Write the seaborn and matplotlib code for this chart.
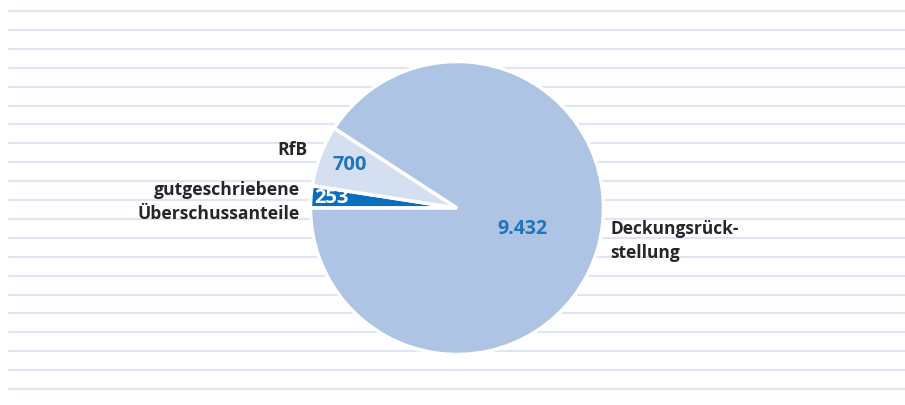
import matplotlib
matplotlib.use("Agg")
import matplotlib.pyplot as plt
import seaborn as sns

# Data
categories = ["gutgeschriebene\nÜberschussanteile", "RfB", "Deckungsrück-\nstellung"]
values = [253, 700, 9432]
value_labels = ["253", "700", "9.432"]
colors = ["#0a6ebd", "#d4e0f2", "#adc4e4"]

sns.set_theme(style="white")
plt.rcParams['font.family'] = ['Open Sans', 'DejaVu Sans']

W, H = 905, 405
fig = plt.figure(figsize=(W / 100, H / 100), dpi=100)

# background ruled lines
bg = fig.add_axes([0, 0, 1, 1])
bg.set_xlim(0, W)
bg.set_ylim(H, 0)
bg.axis("off")
for k in range(21):
    y = 11 + 18.9 * k
    bg.plot([8, W], [y, y], color="#dfe5f3", lw=1.5, solid_capstyle="butt")

# pie
cx, cy, r = 457, 208, 146.5
ax = fig.add_axes([(cx - r) / W, (H - cy - r) / H, 2 * r / W, 2 * r / H])
wedges, _ = ax.pie(values, colors=colors, startangle=180, counterclock=False,
                   radius=1, wedgeprops=dict(edgecolor="white", linewidth=2.5))
ax.set_xlim(-1, 1)
ax.set_ylim(-1, 1)
ax.set_aspect("equal")
ax.axis("off")

def p(x, y):
    return (x - cx) / r, (cy - y) / r

dark = "#262626"
blue = "#1f74bb"

# category labels
ax.text(*p(300, 202), categories[0], ha="right", va="center", fontsize=12.6,
        fontweight="bold", color=dark, linespacing=1.45, clip_on=False)
ax.text(*p(307, 150), categories[1], ha="right", va="center", fontsize=12.6,
        fontweight="bold", color=dark, clip_on=False)
ax.text(*p(610, 241), categories[2], ha="left", va="center", fontsize=12.5,
        fontweight="bold", color=dark, linespacing=1.45, clip_on=False)

# value labels
ax.text(*p(331, 198), value_labels[0], ha="center", va="center", fontsize=14.5,
        fontweight="bold", color="white", clip_on=False)
ax.text(*p(350, 165), value_labels[1], ha="center", va="center", fontsize=14.5,
        fontweight="bold", color=blue, clip_on=False)
ax.text(*p(522, 229), value_labels[2], ha="center", va="center", fontsize=14,
        fontweight="bold", color=blue, clip_on=False)

fig.savefig("out.png", dpi=100, facecolor="white")
